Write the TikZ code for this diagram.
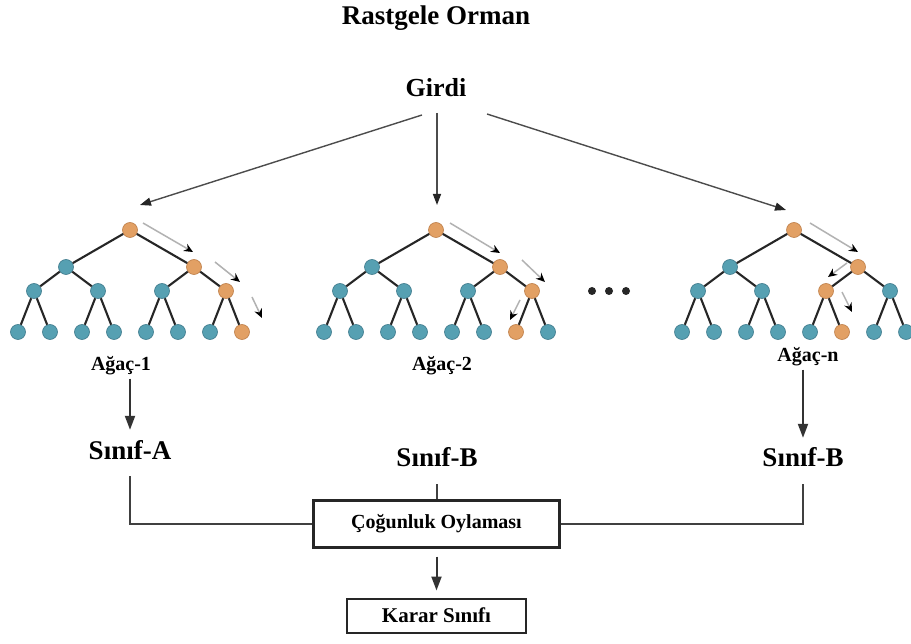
\documentclass[tikz,border=0pt]{standalone}
\usepackage{fontspec}
\setmainfont{Liberation Serif}
\usetikzlibrary{arrows.meta,calc}

\definecolor{leafblue}{RGB}{86,160,178}
\definecolor{leafblueline}{RGB}{62,122,140}
\definecolor{pathorange}{RGB}{226,160,100}
\definecolor{pathorangeline}{RGB}{190,126,72}

\tikzset{
  bluenode/.style={circle,inner sep=0pt,minimum size=15pt,fill=leafblue,draw=leafblueline,line width=0.6pt},
  orangenode/.style={circle,inner sep=0pt,minimum size=15pt,fill=pathorange,draw=pathorangeline,line width=0.6pt},
  branch/.style={line width=2.1pt,black!85},
  pathhint/.style={gray!60,line width=1.5pt,-{Stealth[length=9pt,width=8pt,black]}},
  feed/.style={black!70,line width=1.4pt,-{Triangle[length=11pt,width=8pt,black!85]}},
  bigarrow/.style={black!80,line width=2pt,-{Triangle[length=14pt,width=10pt]}},
  joint/.style={black!75,line width=1.3pt},
  treename/.style={font=\bfseries\fontsize{20}{24}\selectfont,anchor=base,inner sep=3pt},
  classname/.style={font=\bfseries\fontsize{27}{30}\selectfont,anchor=base,
    text height=19pt,text depth=7pt,inner xsep=2pt,inner ysep=10pt},
  stagebox/.style={draw=black!85,line width=2.2pt,inner sep=0pt},
  dot/.style={circle,fill=black!85,inner sep=0pt,minimum size=8pt}
}

% One decision tree of depth 3: #1 name prefix, #2 x of the first leaf,
% #3, #4, #5 index of the highlighted node on levels 2, 3 and 4
\newcommand{\rftree}[5]{%
  \node[orangenode] (#1-r) at ({#2+112},230) {};
  \foreach \i in {0,1}{%
    \ifnum\i=#3 \tikzset{cur/.style={orangenode}}\else\tikzset{cur/.style={bluenode}}\fi
    \node[cur] (#1-a\i) at ({#2+48+128*\i},267) {};
  }
  \foreach \i in {0,...,3}{%
    \ifnum\i=#4 \tikzset{cur/.style={orangenode}}\else\tikzset{cur/.style={bluenode}}\fi
    \node[cur] (#1-b\i) at ({#2+16+64*\i},291) {};
  }
  \foreach \i in {0,...,7}{%
    \ifnum\i=#5 \tikzset{cur/.style={orangenode}}\else\tikzset{cur/.style={bluenode}}\fi
    \node[cur] (#1-c\i) at ({#2+32*\i},332) {};
  }
  \foreach \i in {0,1}{\draw[branch] (#1-r) -- (#1-a\i);}
  \foreach \i in {0,...,3}{%
    \pgfmathtruncatemacro\up{\i/2}
    \draw[branch] (#1-a\up) -- (#1-b\i);
  }
  \foreach \i in {0,...,7}{%
    \pgfmathtruncatemacro\up{\i/2}
    \draw[branch] (#1-b\up) -- (#1-c\i);
  }
}

\begin{document}
\begin{tikzpicture}[x=1pt,y=-1pt]
  \useasboundingbox[fill=white] (0,0) rectangle (911,644);

  % headings
  \node[font=\bfseries\fontsize{27}{30}\selectfont,anchor=base] (title) at (436,25) {Rastgele Orman};
  \node[font=\bfseries\fontsize{26}{30}\selectfont,anchor=base] (girdi) at (436,97) {Girdi};

  % the trees
  \rftree{t1}{18}{1}{3}{7}
  \rftree{t2}{324}{1}{3}{6}
  \rftree{tn}{682}{1}{2}{5}

  \node[dot] (d1) at (592,291) {};
  \node[dot] (d2) at (609,291) {};
  \node[dot] (d3) at (626,291) {};

  % input fed to every tree
  \coordinate (gL) at (422,115);
  \coordinate (gM) at (437,113);
  \coordinate (gR) at (487,114);
  \coordinate (e1) at (140,205);
  \coordinate (e2) at (437,205);
  \coordinate (en) at (786,210);
  \draw[feed] (gL) -- (e1);
  \draw[feed] (gM) -- (e2);
  \draw[feed] (gR) -- (en);

  % decision path hints
  \coordinate (h1s) at (143,223); \coordinate (h1e) at (193,252);
  \coordinate (h2s) at (215,262); \coordinate (h2e) at (240,282);
  \coordinate (h3s) at (252,297); \coordinate (h3e) at (262,318);
  \coordinate (h4s) at (450,223); \coordinate (h4e) at (500,253);
  \coordinate (h5s) at (522,260); \coordinate (h5e) at (545,282);
  \coordinate (h6s) at (520,300); \coordinate (h6e) at (510,320);
  \coordinate (h7s) at (810,223); \coordinate (h7e) at (858,252);
  \coordinate (h8s) at (847,263); \coordinate (h8e) at (828,277);
  \coordinate (h9s) at (842,292); \coordinate (h9e) at (852,312);
  \foreach \k in {1,...,9}{\draw[pathhint] (h\k s) -- (h\k e);}

  % tree names
  \node[treename] (ag1) at (121,371) {Ağaç-1};
  \node[treename] (ag2) at (442,371) {Ağaç-2};
  \node[treename] (agn) at (808,362) {Ağaç-n};

  % class outputs
  \node[classname] (sA) at (130,459) {Sınıf-A};
  \node[classname] (sB) at (437,467) {Sınıf-B};
  \node[classname] (sN) at (803,467) {Sınıf-B};

  \draw[bigarrow] (sA.north |- ag1.south) -- (sA.north);
  \draw[bigarrow] (sN.north |- agn.south) -- (sN.north);

  % voting
  \node[stagebox,minimum width=246pt,minimum height=47pt,
        font=\bfseries\fontsize{20}{24}\selectfont] (vote) at (436.5,524) {Çoğunluk Oylaması};
  \node[stagebox,line width=2pt,minimum width=179pt,minimum height=34pt,
        font=\bfseries\fontsize{21}{24}\selectfont] (karar) at (436.5,615.5) {Karar Sınıfı};

  \draw[joint] (sA.south) |- (vote.west);
  \draw[joint] (sB.south) -- (sB.south |- vote.north);
  \draw[joint] (sN.south) |- (vote.east);
  \draw[bigarrow,shorten <=8pt,shorten >=7pt] (vote.south) -- (karar.north);
\end{tikzpicture}
\end{document}
